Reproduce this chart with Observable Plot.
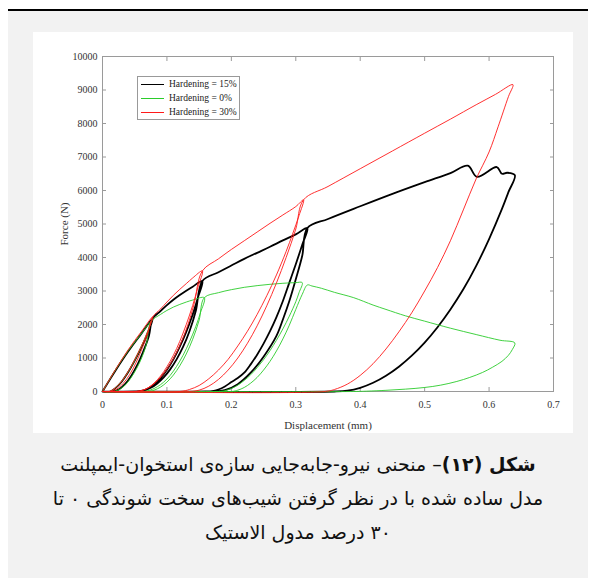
<!DOCTYPE html>
<html>
<head>
<meta charset="utf-8">
<script src="https://cdn.jsdelivr.net/npm/d3@7"></script>
<script src="https://cdn.jsdelivr.net/npm/@observablehq/plot@0.6"></script>
<style>
  html, body { margin: 0; padding: 0; background: #fff; }
  body { width: 596px; height: 578px; position: relative; overflow: hidden; }
  #rule { position: absolute; left: 8px; top: 9px; width: 580px; height: 2px; background: #000; }
  #panel { position: absolute; left: 8px; top: 11px; width: 580px; height: 567px; background: #f2f2f2; }
  #chart { position: absolute; left: 33px; top: 32px; width: 540px; height: 401px; background: #fff; }
  #chart svg { display: block; }
  #legend { position: absolute; left: 104px; top: 44px; width: 103px; height: 44px; border: 1px solid #999; background: #fff;
            font-family: "Liberation Serif", serif; font-size: 9.5px; color: #222; box-sizing: border-box; }
  .row { position: absolute; left: 3px; height: 14px; display: flex; align-items: center; white-space: nowrap; }
  .swatch { width: 23px; margin-right: 5px; }
  #caption { position: absolute; left: 8px; top: 447px; width: 580px; text-align: center; direction: rtl;
             font-family: "DejaVu Sans", sans-serif; font-size: 19px; line-height: 34px; color: #111; }
</style>
</head>
<body>
<div id="rule"></div>
<div id="panel"></div>
<div id="chart"></div>
<div id="caption"></div>
<script>
// Axis ticks
const xTicks = [0, 0.1, 0.2, 0.3, 0.4, 0.5, 0.6, 0.7];
const yTicks = [0, 1000, 2000, 3000, 4000, 5000, 6000, 7000, 8000, 9000, 10000];

// Series labels
const labels = ["Hardening = 15%", "Hardening = 0%", "Hardening = 30%"];

// Force–displacement history, [displacement (mm), force (N)], hardening 15%
const path15 = [
  [0,0],[0.02,620],[0.04,1200],[0.06,1720],[0.078,2180],
  [0.07,1720],[0.06,1300],[0.05,920],[0.04,580],[0.03,300],[0.02,100],[0.012,0],[0,0],
  [0.015,0],[0.025,60],[0.035,220],[0.045,480],[0.055,830],[0.065,1280],[0.072,1660],[0.078,2180],
  [0.09,2400],[0.1,2580],[0.11,2740],[0.12,2880],[0.13,3010],[0.14,3130],[0.155,3300],
  [0.148,2800],[0.14,2300],[0.13,1780],[0.12,1340],[0.11,960],[0.1,650],[0.09,400],[0.08,210],[0.07,80],[0.06,15],[0.05,0],[0,0],
  [0.055,0],[0.065,30],[0.075,110],[0.085,240],[0.095,420],[0.105,660],[0.115,960],[0.125,1330],[0.135,1800],[0.145,2420],[0.155,3300],
  [0.18,3560],[0.2,3760],[0.22,3960],[0.24,4140],[0.26,4320],[0.28,4510],[0.3,4690],[0.318,4880],
  [0.31,4380],[0.3,3800],[0.29,3250],[0.28,2700],[0.27,2220],[0.26,1800],[0.25,1430],[0.24,1100],[0.23,810],[0.22,560],[0.21,400],[0.2,280],[0.19,150],[0.18,60],[0.17,10],[0.16,0],[0,0],
  [0.17,0],[0.19,40],[0.21,220],[0.23,560],[0.25,1040],[0.27,1660],[0.28,2150],[0.29,2700],[0.3,3350],[0.31,4050],[0.318,4880],
  [0.35,5150],[0.4,5530],[0.45,5900],[0.5,6250],[0.54,6520],[0.567,6740],[0.581,6410],[0.612,6700],[0.62,6500],[0.628,6530],[0.64,6460],
  [0.63,5950],[0.62,5450],[0.6,4550],[0.58,3750],[0.56,3050],[0.54,2450],[0.52,1920],[0.5,1460],[0.48,1070],[0.46,740],[0.44,470],[0.42,260],[0.4,110],[0.38,25],[0.36,0],[0,0]
];

// Hardening 0%
const path0 = [
  [0,0],[0.02,640],[0.04,1220],[0.06,1720],[0.075,2080],
  [0.068,1700],[0.06,1330],[0.05,930],[0.04,590],[0.03,310],[0.02,110],[0.012,0],[0,0],
  [0.018,0],[0.028,80],[0.038,250],[0.048,520],[0.058,880],[0.068,1400],[0.075,2080],
  [0.09,2300],[0.1,2420],[0.11,2520],[0.12,2600],[0.13,2670],[0.14,2730],[0.158,2800],
  [0.152,2350],[0.145,1950],[0.135,1480],[0.125,1080],[0.115,750],[0.105,480],[0.095,280],[0.085,140],[0.075,50],[0.065,5],[0.06,0],[0,0],
  [0.07,0],[0.08,40],[0.09,130],[0.1,280],[0.11,490],[0.12,770],[0.13,1120],[0.14,1560],[0.15,2130],[0.158,2800],
  [0.18,2950],[0.2,3040],[0.22,3110],[0.24,3160],[0.26,3200],[0.28,3230],[0.3,3250],[0.31,3250],
  [0.305,2950],[0.3,2680],[0.29,2250],[0.28,1870],[0.27,1530],[0.26,1220],[0.25,950],[0.24,710],[0.23,500],[0.22,330],[0.21,190],[0.2,90],[0.19,25],[0.18,0],[0,0],
  [0.2,0],[0.21,40],[0.22,120],[0.23,250],[0.24,420],[0.25,640],[0.26,900],[0.27,1210],[0.28,1570],[0.29,1980],[0.3,2450],[0.31,2900],[0.318,3180],
  [0.325,3150],[0.34,3080],[0.36,2960],[0.39,2800],[0.42,2580],[0.44,2450],[0.47,2260],[0.5,2100],[0.54,1890],[0.58,1700],[0.617,1530],[0.64,1450],
  [0.636,1250],[0.63,1080],[0.62,900],[0.605,720],[0.59,570],[0.57,420],[0.55,300],[0.525,190],[0.5,120],[0.47,70],[0.44,35],[0.41,10],[0.39,0],[0,0]
];

// Hardening 30%
const path30 = [
  [0,0],[0.02,650],[0.04,1250],[0.06,1780],[0.078,2230],
  [0.07,1780],[0.06,1340],[0.05,950],[0.04,600],[0.03,310],[0.02,110],[0.01,0],[0,0],
  [0.012,0],[0.022,70],[0.032,240],[0.042,500],[0.052,860],[0.062,1310],[0.07,1720],[0.078,2230],
  [0.09,2460],[0.1,2670],[0.11,2870],[0.12,3050],[0.13,3220],[0.14,3390],[0.155,3600],
  [0.148,3100],[0.14,2570],[0.13,2000],[0.12,1500],[0.11,1080],[0.1,740],[0.09,460],[0.08,250],[0.07,100],[0.06,25],[0.05,0],[0,0],
  [0.052,0],[0.062,35],[0.072,120],[0.082,260],[0.092,460],[0.102,720],[0.112,1050],[0.122,1460],[0.132,1960],[0.142,2600],[0.155,3600],
  [0.18,3960],[0.2,4240],[0.22,4500],[0.24,4760],[0.26,5020],[0.28,5270],[0.3,5520],[0.312,5720],
  [0.305,5250],[0.295,4700],[0.285,4180],[0.27,3480],[0.255,2860],[0.24,2300],[0.225,1800],[0.21,1360],[0.195,960],[0.18,640],[0.165,380],[0.15,180],[0.135,60],[0.12,0],[0,0],
  [0.135,0],[0.15,40],[0.165,160],[0.18,360],[0.195,640],[0.21,1000],[0.225,1440],[0.24,1960],[0.255,2560],[0.27,3240],[0.285,4000],[0.3,4850],[0.312,5720],
  [0.35,6120],[0.4,6650],[0.45,7180],[0.5,7710],[0.54,8130],[0.58,8560],[0.61,8870],[0.637,9160],
  [0.63,8800],[0.614,7900],[0.6,7150],[0.58,6350],[0.56,5420],[0.54,4500],[0.52,3700],[0.5,3000],[0.48,2350],[0.46,1780],[0.44,1270],[0.42,830],[0.4,480],[0.38,220],[0.36,60],[0.345,0],[0,0]
];

const colors = ["#000000", "#2bcc2b", "#ff1a1a"];
const widths = [1.8, 0.9, 0.9];
const paths = [path15, path0, path30];

const fmtX = d => d === 0 ? "0" : d.toFixed(1);

const chart = Plot.plot({
  width: 540,
  height: 401,
  marginLeft: 69,
  marginRight: 20,
  marginTop: 24,
  marginBottom: 42,
  x: { domain: [0, 0.7] },
  y: { domain: [0, 10000] },
  style: { fontFamily: "'Liberation Serif', serif", fontSize: "10px", color: "#333", background: "transparent" },
  marks: [
    Plot.frame({ stroke: "#9a9a9a" }),
    Plot.axisX(xTicks, { anchor: "bottom", tickSize: -4, tickPadding: 13, stroke: "#9a9a9a", tickFormat: fmtX,
      label: null }),
    Plot.axisX({ anchor: "bottom", ticks: [], label: "Displacement (mm)", labelAnchor: "center", labelOffset: 37,
      labelArrow: false, fontSize: 11 }),
    Plot.axisX(xTicks, { anchor: "top", tickSize: -4, stroke: "#9a9a9a", tickFormat: () => "", label: null }),
    Plot.axisY(yTicks, { anchor: "left", tickSize: -4, tickPadding: 9, stroke: "#9a9a9a", tickFormat: d => String(d),
      label: null }),
    Plot.axisY({ anchor: "left", ticks: [], label: "Force (N)", labelAnchor: "center", labelOffset: 42,
      labelArrow: false, fontSize: 11 }),
    Plot.axisY(yTicks, { anchor: "right", tickSize: -4, stroke: "#9a9a9a", tickFormat: () => "", label: null }),
    ...paths.map((p, i) => Plot.line(p, {
      x: d => d[0], y: d => d[1], stroke: colors[i], strokeWidth: widths[i],
      curve: "catmull-rom", strokeLinejoin: "round"
    }))
  ]
});
document.getElementById("chart").appendChild(chart);

// Legend inside the axes box
const legend = document.createElement("div");
legend.id = "legend";
labels.forEach((t, i) => {
  const row = document.createElement("div");
  row.className = "row";
  row.style.top = (0 + i * 14) + "px";
  const sw = document.createElement("div");
  sw.className = "swatch";
  sw.style.borderTop = widths[i] + "px solid " + colors[i];
  const tx = document.createElement("span");
  tx.textContent = t;
  row.appendChild(sw);
  row.appendChild(tx);
  legend.appendChild(row);
});
document.getElementById("chart").appendChild(legend);

// Caption
const captionLines = [
  ["شکل (۱۲)", "– منحنی نیرو-جابه‌جایی سازه‌ی استخوان-ایمپلنت"],
  ["", "مدل ساده شده با در نظر گرفتن شیب‌های سخت شوندگی ۰ تا"],
  ["", "۳۰ درصد مدول الاستیک"]
];
const cap = document.getElementById("caption");
captionLines.forEach(([bold, rest]) => {
  const line = document.createElement("div");
  if (bold) {
    const b = document.createElement("b");
    b.textContent = bold;
    line.appendChild(b);
  }
  line.appendChild(document.createTextNode(rest));
  cap.appendChild(line);
});
</script>
</body>
</html>
